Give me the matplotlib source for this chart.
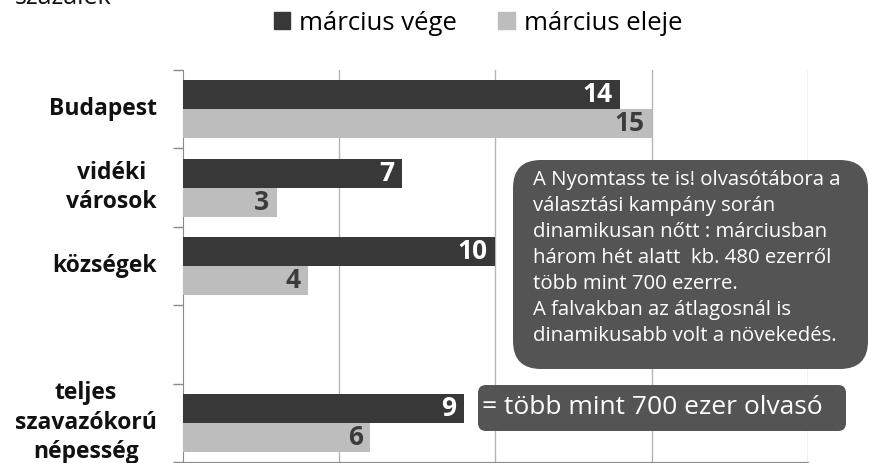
import matplotlib
matplotlib.use("Agg")
import matplotlib.pyplot as plt
from matplotlib.patches import Patch, FancyBboxPatch

plt.rcParams['font.family'] = ['Open Sans', 'DejaVu Sans']

categories = ["Budapest", "vidéki\nvárosok", "községek", "", "teljes\nszavazókorú\nnépesség"]
marcius_vege = [14, 7, 10, None, 9]
marcius_eleje = [15, 3, 4, None, 6]
series_names = ["március vége", "március eleje"]
unit_label = "százalék"
note_text = ("A Nyomtass te is! olvasótábora a\n"
             "választási kampány során\n"
             "dinamikusan nőtt : márciusban\n"
             "három hét alatt  kb. 480 ezerről\n"
             "több mint 700 ezerre.\n"
             "A falvakban az átlagosnál is\n"
             "dinamikusabb volt a növekedés.")
total_note = "= több mint 700 ezer olvasó"

dark = "#383838"
light = "#bdbdbd"
boxc = "#545454"

W, H = 870, 463
fig = plt.figure(figsize=(W / 100, H / 100), dpi=100)
ax = fig.add_axes([183 / W, 1 - 462 / H, (808 - 183) / W, (462 - 70) / H])

bh = 0.37
for i, (v1, v2) in enumerate(zip(marcius_vege, marcius_eleje)):
    if v1 is None:
        continue
    ax.barh(i - bh / 2, v1, height=bh, color=dark, zorder=3)
    ax.barh(i + bh / 2, v2, height=bh, color=light, zorder=3)
    ax.annotate(str(v1), (v1, i - bh / 2), xytext=(-5.5, 0), textcoords="offset points",
                ha="right", va="center", color="white", fontsize=19, fontweight="bold", zorder=4)
    ax.annotate(str(v2), (v2, i + bh / 2), xytext=(-5.5, 0), textcoords="offset points",
                ha="right", va="center", color="#3c3c3c", fontsize=19, fontweight="bold", zorder=4)

ax.set_xlim(0, 20)
ax.set_ylim(len(categories) - 0.5, -0.5)
ax.set_xticks([5, 10, 15, 20])
ax.set_xticklabels([])
ax.tick_params(axis="x", length=0)
ax.grid(axis="x", color="#b5b5b5", linewidth=1.0, zorder=0)
ax.set_yticks([i - 0.5 for i in range(len(categories) + 1)])
ax.set_yticklabels([])
ax.tick_params(axis="y", length=7, color="#8a8a8a", width=1)
for s in ["top", "right"]:
    ax.spines[s].set_visible(False)
ax.spines["left"].set_color("#8a8a8a")
ax.spines["bottom"].set_color("#8a8a8a")

for i, c in enumerate(categories):
    if c:
        ax.text(-26 / 31.25, i, c, ha="right", va="center", multialignment="center",
                fontsize=16.5, fontweight="bold", color="#111111", linespacing=1.3,
                transform=ax.transData)

# legend
handles = [Patch(color=dark), Patch(color=light)]
fig.legend(handles, series_names, loc="center", bbox_to_anchor=(478 / W, 1 - 23 / H),
           ncol=2, frameon=False, fontsize=18.5, handlelength=0.65, handleheight=0.65,
           handletextpad=0.35, columnspacing=1.6, borderaxespad=0)

fig.text(15 / W, 1 - 4 / H, unit_label, ha="left", va="baseline", fontsize=18, color="#111111")

# annotation boxes
def rbox(x0, y0, x1, y1, r):
    p = FancyBboxPatch((x0 + r, H - y1 + r), (x1 - x0) - 2 * r, (y1 - y0) - 2 * r,
                       boxstyle=f"round,pad={r},rounding_size={r}", facecolor=boxc,
                       edgecolor="none", transform=None, zorder=5)
    fig.patches.append(p)

rbox(513, 160, 868, 369, 28)
fig.text(533 / W, 1 - 170 / H, note_text, ha="left", va="top", color="white",
         fontsize=14.7, linespacing=1.4, zorder=6)

rbox(478, 385, 846, 431, 8)
fig.text(482 / W, 1 - 408 / H, total_note, ha="left", va="center", color="white",
         fontsize=19, zorder=6)

fig.savefig("out.png", dpi=100)
